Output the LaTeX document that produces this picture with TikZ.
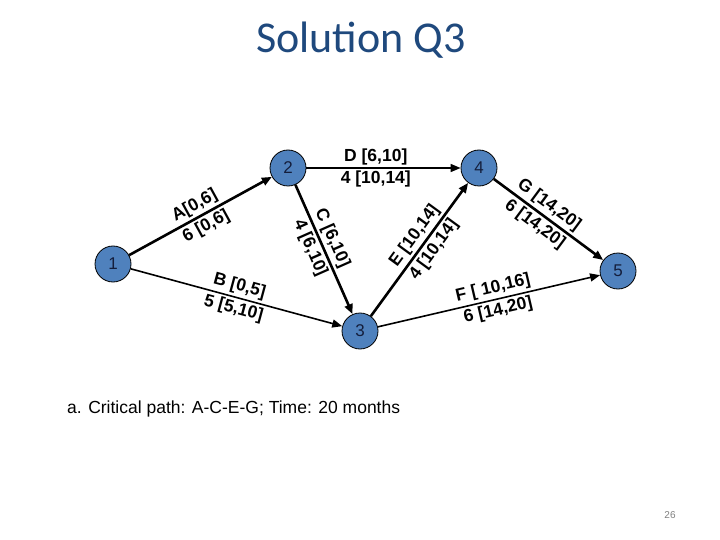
\documentclass[tikz,border=0pt]{standalone}
\usepackage{fontspec}
\setmainfont{Liberation Sans}
\newfontfamily\titlefont{Carlito}
\usetikzlibrary{arrows.meta}
\definecolor{titleblue}{RGB}{31,73,125}
\definecolor{nodeblue}{RGB}{79,129,189}
\definecolor{numnavy}{RGB}{20,30,60}
\begin{document}
\begin{tikzpicture}[x=1pt,y=-1pt,
  event/.style={circle,draw=black,line width=0.8pt,fill=nodeblue,minimum size=36pt,inner sep=0pt,font=\fontsize{17}{17}\selectfont,text=numnavy},
  crit/.style={line width=2.6pt,-{Triangle[length=10pt,width=8pt]}},
  norm/.style={line width=1.6pt,-{Triangle[length=10pt,width=8pt]}},
  lab/.style={font=\fontsize{17.5}{17.5}\selectfont\bfseries,inner sep=2.5pt,sloped}]
\useasboundingbox (0,0) rectangle (720,540);
\node[font=\titlefont\fontsize{44}{44}\selectfont,text=titleblue] (title) at (361,40) {Solution Q3};
\node[event] (n1) at (113,264) {1};
\node[event] (n2) at (288,168) {2};
\node[event] (n3) at (360,331) {3};
\node[event] (n4) at (479,168) {4};
\node[event] (n5) at (618,271) {5};
\draw[crit] (n1) -- node[lab,above,pos=0.5] {A[0,6]} node[lab,below,pos=0.5] {6 [0,6]} (n2);
\draw[norm] (n1) -- node[lab,above,pos=0.5] {B [0,5]} node[lab,below,pos=0.5] {5 [5,10]} (n3);
\draw[crit] (n2) -- node[lab,above,pos=0.45] {C [6,10]} node[lab,below,pos=0.45] {4 [6,10]} (n3);
\draw[norm] (n2) -- node[lab,above,pos=0.45] {D [6,10]} node[lab,below,pos=0.45] {4 [10,14]} (n4);
\draw[crit] (n3) -- node[lab,above,pos=0.55] {E [10,14]} node[lab,below,pos=0.55] {4 [10,14]} (n4);
\draw[norm] (n3) -- node[lab,above,pos=0.53] {F [ 10,16]} node[lab,below,pos=0.53] {6 [14,20]} (n5);
\draw[crit] (n4) -- node[lab,above,pos=0.44] {G [14,20]} node[lab,below,pos=0.44] {6 [14,20]} (n5);
\node[anchor=base west,font=\fontsize{17.5}{17.5}\selectfont,inner sep=0pt] (caption) at (67,413) {a. Critical path: A-C-E-G; Time: 20 months};
\node[font=\fontsize{10}{10}\selectfont,text=gray] (page) at (670,515) {26};
\end{tikzpicture}
\end{document}
